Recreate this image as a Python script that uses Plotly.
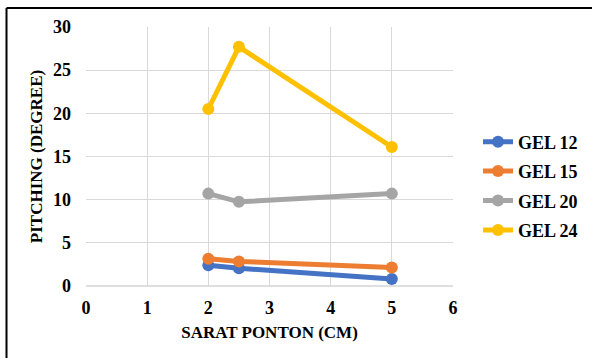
import plotly.graph_objects as go

x_vals = [2, 2.5, 5]
series_names = ["GEL 12", "GEL 15", "GEL 20", "GEL 24"]
gel12 = [2.4, 2.05, 0.8]
gel15 = [3.15, 2.85, 2.15]
gel20 = [10.7, 9.75, 10.7]
gel24 = [20.5, 27.7, 16.1]
colors = ["#4472C4", "#ED7D31", "#A5A5A5", "#FFC000"]

font_family = "Liberation Serif, Times New Roman, serif"

fig = go.Figure()
for name, ys, c in zip(series_names, [gel12, gel15, gel20, gel24], colors):
    fig.add_trace(go.Scatter(
        x=x_vals, y=ys, name=name, mode="lines+markers",
        legendgroup=name,
        line=dict(color=c, width=5),
        marker=dict(color=c, size=12),
    ))

W, H = 592, 358
ml, mr, mt, mb = 86, 139, 27, 72
pw = W - ml - mr
ph = H - mt - mb

def px_to_paper_x(px):
    return (px - ml) / pw

def py_to_paper_y(py):
    return (H - mb - py) / ph

bx = px_to_paper_x(6.5)
by = py_to_paper_y(8)

fig.update_layout(
    width=W, height=H,
    margin=dict(l=ml, r=mr, t=mt, b=mb, pad=0, autoexpand=False),
    paper_bgcolor="white", plot_bgcolor="white",
    font=dict(family=font_family, size=17, color="black"),
    showlegend=True,
    legend=dict(
        x=px_to_paper_x(478), xanchor="left",
        y=py_to_paper_y(186), yanchor="middle",
        font=dict(family=font_family, size=18, color="black", weight="bold"),
        bgcolor="rgba(0,0,0,0)",
        traceorder="grouped", tracegroupgap=3,
        itemwidth=30,
    ),
    xaxis=dict(
        range=[0, 6], dtick=1, tick0=0,
        showgrid=True, gridcolor="#D9D9D9", gridwidth=1,
        zeroline=False, showline=False,
        ticks="", ticklabelstandoff=9,
        tickfont=dict(family=font_family, size=18, weight="bold"),
        title=dict(text="<b>SARAT PONTON (CM)</b>", standoff=9,
                   font=dict(family=font_family, size=17)),
        fixedrange=True,
    ),
    yaxis=dict(
        range=[0, 30], dtick=5, tick0=0,
        showgrid=True, gridcolor="#D9D9D9", gridwidth=1,
        zeroline=False, showline=False,
        ticks="", ticklabelstandoff=14,
        tickfont=dict(family=font_family, size=18, weight="bold"),
        title=dict(text="<b>PITCHING (DEGREE)</b>", standoff=6,
                   font=dict(family=font_family, size=17)),
        fixedrange=True,
    ),
    shapes=[
        dict(type="line", xref="paper", yref="paper", x0=0, x1=1, y0=0, y1=0,
             line=dict(color="#BFBFBF", width=1), layer="below"),
        dict(type="line", xref="paper", yref="paper", x0=bx, x1=bx,
             y0=py_to_paper_y(H + 5), y1=by, line=dict(color="black", width=2)),
        dict(type="line", xref="paper", yref="paper", x0=bx, x1=px_to_paper_x(W + 5),
             y0=by, y1=by, line=dict(color="black", width=2)),
    ],
)

fig.write_html("out.html")
